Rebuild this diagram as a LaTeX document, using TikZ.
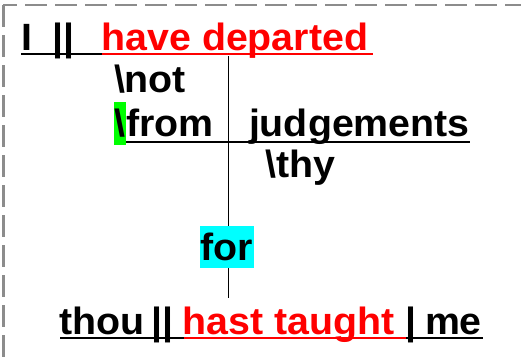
\documentclass[tikz,border=0pt]{standalone}
\usepackage{fontspec}
\setmainfont{Liberation Sans}[FakeStretch=1.035]
\definecolor{dred}{RGB}{255,0,0}
\definecolor{hgreen}{RGB}{0,255,0}
\definecolor{hcyan}{RGB}{0,255,255}
\definecolor{bordergray}{RGB}{140,140,140}
\begin{document}
\begin{tikzpicture}[x=1pt,y=-1pt,
  word/.style={anchor=base west,inner sep=0pt,outer sep=0pt,font=\fontsize{38}{40}\selectfont\bfseries},
  redword/.style={word,text=dred},
  boxword/.style={word,text height=34.4pt,text depth=8.1pt},
  uline/.style={line width=2pt},
  ruline/.style={line width=2pt,draw=dred},
  stem/.style={line width=1pt},
  frame/.style={draw=bordergray,line width=2.5pt,dash pattern=on 22pt off 8pt}]
\useasboundingbox (0,0) rectangle (521,359);
\clip (0,0) rectangle (521,359);
\draw[frame] (3.3,5) rectangle (600,420);
% top line
\node[word] (I) at (21,50) {I};
\node[word] (bars1) at (52.5,50) {||};
\node[redword] (hd) at (101.5,50) {have departed};
\coordinate (u1a) at (21,54.3);
\coordinate (u1b) at (102,54.3);
\coordinate (u1c) at (373,54.3);
\draw[uline] (u1a) -- (u1b);
\draw[ruline] (u1b) -- (u1c);
% modifiers
\node[word] (not) at (114,92) {\textbackslash not};
\node[boxword,fill=hgreen,inner xsep=0.8pt] (bs) at (113.5,136.5) {\textbackslash};
\node[word] (from) at (bs.base east) {from};
\node[word] (judg) at (249,136.5) {judgements};
\node[word] (thy) at (265.5,177) {\textbackslash thy};
\coordinate (u2a) at (126,141.7);
\coordinate (u2b) at (470,141.7);
\draw[uline] (u2a) -- (u2b);
% vertical stem
\coordinate (st) at (228.5,56);
\coordinate (sb) at (228.5,298);
\draw[stem] (st) -- (sb);
\node[boxword,fill=hcyan,anchor=base,inner xsep=1.2pt] (for) at (227,260) {for};
% bottom line
\node[word] (thou) at (59.5,334) {thou};
\node[word] (bars2) at (151.7,334) {||};
\node[redword] (ht) at (182.5,334) {hast taught};
\node[word] (bar3) at (405.7,334) {|};
\node[word] (me) at (425,334) {me};
\coordinate (u3a) at (60,338.3);
\coordinate (u3b) at (184,338.3);
\coordinate (u3c) at (406,338.3);
\coordinate (u3d) at (483,338.3);
\draw[uline] (u3a) -- (u3b);
\draw[ruline] (u3b) -- (u3c);
\draw[uline] (u3c) -- (u3d);
\end{tikzpicture}
\end{document}
